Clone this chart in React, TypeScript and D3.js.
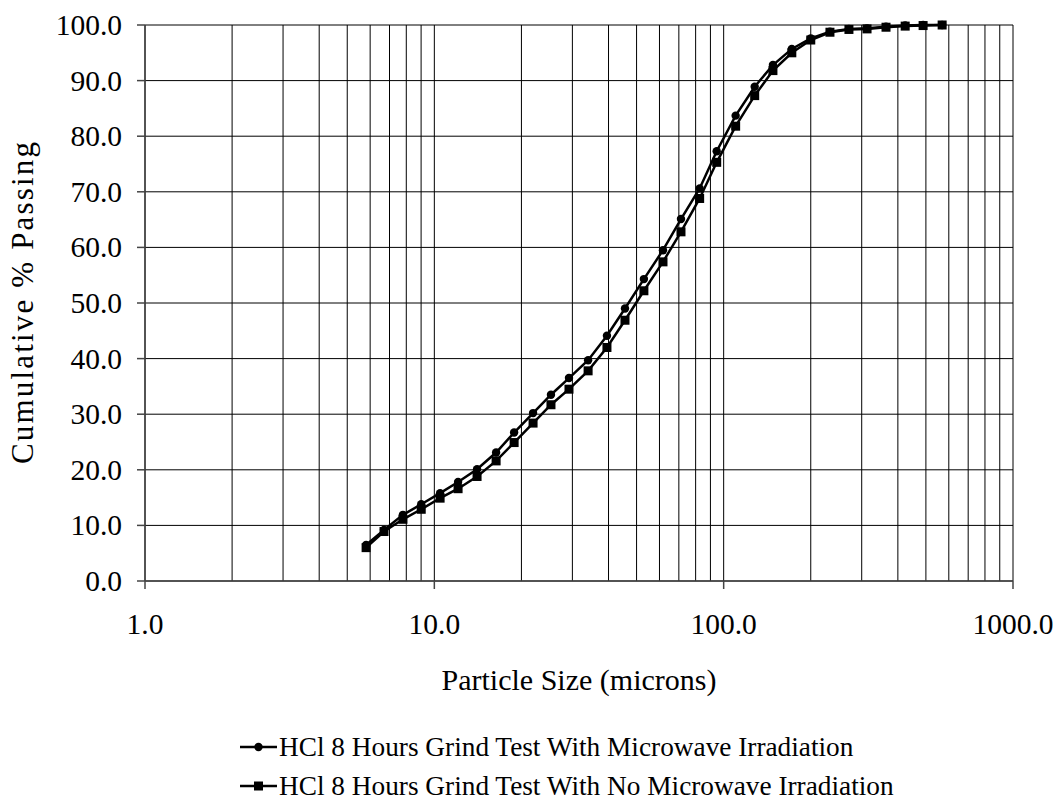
import React from "react";
import * as d3 from "d3";

const particleSizes = [5.81, 6.7, 7.79, 9.01, 10.47, 12.08, 14.05, 16.35, 18.87, 21.94, 25.3, 29.2, 34.0, 39.5, 45.6, 53.0, 61.7, 71.2, 82.6, 94.6, 110, 128, 148, 172, 200, 233, 271, 313, 364, 424, 489, 569];
const withMicrowave = [6.5, 9.2, 11.9, 13.8, 15.8, 17.8, 20.1, 23.1, 26.7, 30.2, 33.5, 36.5, 39.7, 44.1, 49.0, 54.3, 59.5, 65.1, 70.6, 77.3, 83.7, 88.9, 92.8, 95.7, 97.6, 98.8, 99.3, 99.4, 99.7, 99.9, 100, 100];
const noMicrowave = [6.0, 8.9, 11.1, 12.9, 14.9, 16.6, 18.8, 21.6, 24.9, 28.4, 31.7, 34.5, 37.8, 42.0, 46.9, 52.2, 57.4, 62.8, 68.8, 75.3, 81.8, 87.3, 91.8, 95.0, 97.3, 98.7, 99.2, 99.3, 99.6, 99.8, 99.9, 100];
const seriesNames = [
  "HCl 8 Hours Grind Test With Microwave Irradiation",
  "HCl 8 Hours Grind Test With No Microwave Irradiation",
];
const xTickValues = [1, 10, 100, 1000];
const yTickValues = [0, 10, 20, 30, 40, 50, 60, 70, 80, 90, 100];
const xTitle = "Particle Size (microns)";
const yTitle = "Cumulative % Passing";

const W = 1058;
const H = 805;
const left = 145;
const right = 1013;
const top = 25;
const bottom = 581;
const FONT = "'Liberation Serif', 'Times New Roman', serif";

export default function App() {
  const x = d3.scaleLog().domain([1, 1000]).range([left, right]);
  const y = d3.scaleLinear().domain([0, 100]).range([bottom, top]);

  const minorX: number[] = [];
  for (let dec = 1; dec < 1000; dec *= 10) {
    for (let k = 2; k <= 9; k++) minorX.push(dec * k);
  }

  const line = d3
    .line<[number, number]>()
    .x((d) => x(d[0]))
    .y((d) => y(d[1]));

  const s1: [number, number][] = particleSizes.map((s, i) => [s, withMicrowave[i]]);
  const s2: [number, number][] = particleSizes.map((s, i) => [s, noMicrowave[i]]);

  const legendRows = [747, 786];

  return (
    <svg
      width={W}
      height={H}
      style={{ position: "absolute", left: 0, top: 0, background: "#fff" }}
      fontFamily={FONT}
    >
      <rect x={0} y={0} width={W} height={H} fill="#fff" />
      {yTickValues.map((v) => (
        <line key={"hg" + v} x1={left} x2={right} y1={y(v)} y2={y(v)} stroke="#000" strokeWidth={1} />
      ))}
      {minorX.concat(xTickValues).map((v) => (
        <line key={"vg" + v} x1={x(v)} x2={x(v)} y1={top} y2={bottom} stroke="#000" strokeWidth={1} />
      ))}
      <line x1={left} x2={left} y1={top} y2={bottom} stroke="#444" strokeWidth={1.5} />
      <line x1={left} x2={right} y1={bottom} y2={bottom} stroke="#444" strokeWidth={1.5} />
      {yTickValues.map((v) => (
        <line key={"yt" + v} x1={left - 8} x2={left} y1={y(v)} y2={y(v)} stroke="#444" strokeWidth={1.5} />
      ))}
      {xTickValues.map((v) => (
        <line key={"xt" + v} x1={x(v)} x2={x(v)} y1={bottom} y2={bottom + 8} stroke="#444" strokeWidth={1.5} />
      ))}
      {yTickValues.map((v) => (
        <text key={"yl" + v} x={122} y={y(v) + 10} textAnchor="end" fontSize={29.5} fill="#000">
          {v.toFixed(1)}
        </text>
      ))}
      {xTickValues.map((v) => (
        <text key={"xl" + v} x={x(v)} y={634} textAnchor="middle" fontSize={29.5} fill="#000">
          {v.toFixed(1)}
        </text>
      ))}
      <text x={(left + right) / 2} y={690} textAnchor="middle" fontSize={30} fill="#000">
        {xTitle}
      </text>
      <text
        transform={`translate(33, 303) rotate(-90)`}
        textAnchor="middle"
        fontSize={31}
        textLength={322}
        lengthAdjust="spacing"
        fill="#000"
      >
        {yTitle}
      </text>
      <path d={line(s1) || ""} fill="none" stroke="#000" strokeWidth={2.5} />
      <path d={line(s2) || ""} fill="none" stroke="#000" strokeWidth={2.5} />
      {s1.map((d, i) => (
        <circle key={"c" + i} cx={x(d[0])} cy={y(d[1])} r={4.2} fill="#000" />
      ))}
      {s2.map((d, i) => (
        <rect key={"r" + i} x={x(d[0]) - 4.5} y={y(d[1]) - 4.5} width={9} height={9} fill="#000" />
      ))}
      {legendRows.map((ly, i) => (
        <g key={"lg" + i}>
          <line x1={240} x2={277} y1={ly} y2={ly} stroke="#000" strokeWidth={2.5} />
          {i === 0 ? (
            <circle cx={258.5} cy={ly} r={4.2} fill="#000" />
          ) : (
            <rect x={254} y={ly - 4.5} width={9} height={9} fill="#000" />
          )}
          <text x={279} y={ly + 9} fontSize={27.3} fill="#000">
            {seriesNames[i]}
          </text>
        </g>
      ))}
    </svg>
  );
}
